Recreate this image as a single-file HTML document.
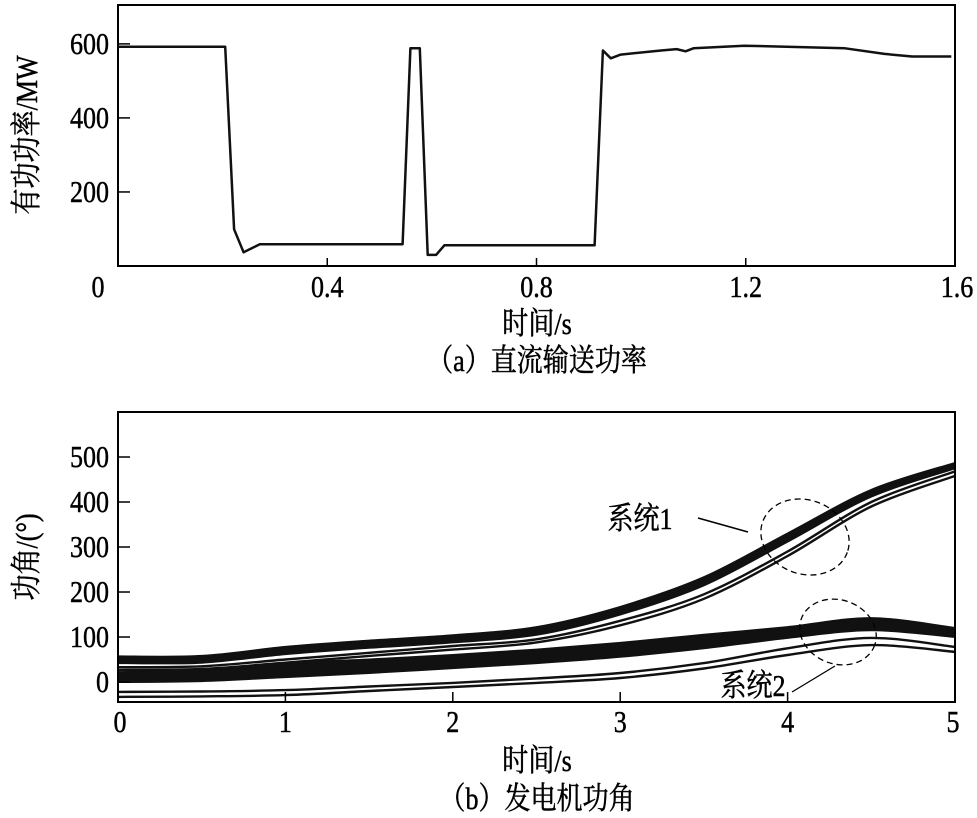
<!DOCTYPE html>
<html><head><meta charset="utf-8"><style>
html,body{margin:0;padding:0;background:#fff;}
svg{display:block;}
text{font-family:"Liberation Serif","Noto Serif CJK SC",serif;fill:#000;stroke:#000;stroke-width:0.5;}
</style></head><body>
<svg id="s" width="977" height="818" viewBox="0 0 977 818" xmlns="http://www.w3.org/2000/svg">
<g id="top"></g>
<g id="bot"></g>
</svg>
<script>
// Chart (a) data
const aTimes = [0,0.205,0.222,0.240,0.271,0.544,0.559,0.577,0.592,0.608,0.624,0.911,0.927,0.942,0.961,1.038,1.068,1.085,1.100,1.197,1.390,1.465,1.518,1.593];
const aPower = [592,592,99,37,59,59,588,588,30,30,56,56,582,561,571,582,586,580,588,595,588,573,566,566];
const aXTicks = [0,0.4,0.8,1.2,1.6];
const aXLabels = ["0","0.4","0.8","1.2","1.6"];
const aYTicks = [200,400,600];
const aYLabels = ["200","400","600"];
// Chart (b) data
const bTimes = [0,0.5,1,1.5,2,2.5,3,3.5,4,4.5,5];
const sys1Top = [57,58,78,92,104,122,167,233,330,427,487];
const sys1Bot = [42,43,62,76,88,105,150,215,312,412,475];
const sys1Thin1 = [33,35,50,65,80,95,136,195,290,400,468];
const sys1Thin2 = [27,29,43,58,72,88,126,185,280,390,458];
const sys2Top = [22,25,42,50,60,72,87,105,122,142,120];
const sys2Bot = [0,2,11,20,31,42,56,75,98,115,100];
const sys2Thin1 = [-22,-21,-18,-10,-2,8,20,42,75,98,78];
const sys2Thin2 = [-33,-32,-29,-20,-11,-2,9,30,60,82,67];
const bXTicks = [0,1,2,3,4,5];
const bXLabels = ["0","1","2","3","4","5"];
const bYTicks = [0,100,200,300,400,500];
const bYLabels = ["0","100","200","300","400","500"];

const NS="http://www.w3.org/2000/svg";
function mk(parent,tag,attrs,txt){const e=document.createElementNS(NS,tag);for(const k in attrs)e.setAttribute(k,attrs[k]);if(txt!==undefined)e.textContent=txt;parent.appendChild(e);return e;}
function label(parent,x,y,str,anchor,size,rot){
  const t=mk(parent,'text',{x:0,y:0,'text-anchor':anchor||'middle','font-size':size||28,transform:`translate(${x},${y})${rot?' rotate(-90)':''} scale(0.84,1)`},str);
  return t;
}

// ---------- chart a ----------
const A={l:118,r:955,t:5,b:266,x0:0,x1:1.6,y0:0,y1:705};
const ax=v=>A.l+(v-A.x0)/(A.x1-A.x0)*(A.r-A.l);
const ay=v=>A.b-(v-A.y0)/(A.y1-A.y0)*(A.b-A.t);
const gA=document.getElementById('top');
let fr=mk(gA,'rect',{x:A.l,y:A.t,width:A.r-A.l,height:A.b-A.t,fill:'none',stroke:'#000','stroke-width':2});


aXTicks.forEach((v,i)=>{
  const l=mk(gA,'line',{x1:ax(v),x2:ax(v),y1:A.b,y2:A.b-8,stroke:'#000','stroke-width':1.5});
  
  
  const t=label(gA,i===0?98:(i===4?957:ax(v)),297,aXLabels[i],'middle',31);
  
  
});
aYTicks.forEach((v,i)=>{
  const l=mk(gA,'line',{x1:A.l,x2:A.l+12,y1:ay(v),y2:ay(v),stroke:'#000','stroke-width':1.5});
  
  
  const t=label(gA,109,ay(v)+10,aYLabels[i],'end',31);
  
  
});
let pa=mk(gA,'path',{d:aTimes.map((t,i)=>(i?'L':'M')+ax(t).toFixed(1)+','+ay(aPower[i]).toFixed(1)).join(''),fill:'none',stroke:'#111','stroke-width':2.5,'stroke-linejoin':'round'});


let t1=label(gA,37,135,'有功功率/MW','middle',31,true);


let t2=label(gA,537,334,'时间/s','middle',31);


let t3=label(gA,537,371,'（a）直流输送功率','middle',31);



// ---------- chart b ----------
const B={l:118,r:955,t:412,b:702,x0:0,x1:5,y0:-44.4,y1:600};
const bx=v=>B.l+(v-B.x0)/(B.x1-B.x0)*(B.r-B.l);
const by=v=>B.b-(v-B.y0)/(B.y1-B.y0)*(B.b-B.t);
const gB=document.getElementById('bot');
function smooth(xs,ys){
  const P=xs.map((x,i)=>[bx(x),by(ys[i])]);
  let d='M'+P[0][0].toFixed(1)+','+P[0][1].toFixed(1);
  for(let i=0;i<P.length-1;i++){
    const p0=P[i-1]||P[i],p1=P[i],p2=P[i+1],p3=P[i+2]||P[i+1];
    const c1=[p1[0]+(p2[0]-p0[0])/6,p1[1]+(p2[1]-p0[1])/6];
    const c2=[p2[0]-(p3[0]-p1[0])/6,p2[1]-(p3[1]-p1[1])/6];
    d+=`C${c1[0].toFixed(1)},${c1[1].toFixed(1)} ${c2[0].toFixed(1)},${c2[1].toFixed(1)} ${p2[0].toFixed(1)},${p2[1].toFixed(1)}`;
  }
  return d;
}
function band(top,bot,name){
  const rev=smooth(bTimes.slice().reverse(),bot.slice().reverse());
  const d=smooth(bTimes,top)+'L'+rev.slice(1)+'Z';
  const p=mk(gB,'path',{d:d,fill:'#111',stroke:'#111','stroke-width':2,'stroke-linejoin':'round'});
  
  
}
function thin(vals,name){
  const p=mk(gB,'path',{d:smooth(bTimes,vals),fill:'none',stroke:'#111','stroke-width':2.4});
  
  
}
band(sys1Top,sys1Bot,'system1-band');
thin(sys1Thin1,'system1-line-3');
thin(sys1Thin2,'system1-line-4');
band(sys2Top,sys2Bot,'system2-band');
thin(sys2Thin1,'system2-line-3');
thin(sys2Thin2,'system2-line-4');
fr=mk(gB,'rect',{x:B.l,y:B.t,width:B.r-B.l,height:B.b-B.t,fill:'none',stroke:'#000','stroke-width':2});


bXTicks.forEach((v,i)=>{
  const l=mk(gB,'line',{x1:bx(v),x2:bx(v),y1:B.b,y2:B.b-10,stroke:'#000','stroke-width':1.5});
  
  
  const t=label(gB,i===0?120:(i===5?953:bx(v)),732,bXLabels[i],'middle',31);
  
  
});
bYTicks.forEach((v,i)=>{
  const l=mk(gB,'line',{x1:B.l,x2:B.l+12,y1:by(v),y2:by(v),stroke:'#000','stroke-width':1.5});
  
  
  const t=label(gB,109,by(v)+10,bYLabels[i],'end',31);
  
  
});
let e1=mk(gB,'ellipse',{cx:805,cy:537,rx:45,ry:37,fill:'none',stroke:'#000','stroke-width':1.3,'stroke-dasharray':'6,4',transform:'rotate(20 805 537)'});


let e2=mk(gB,'ellipse',{cx:838,cy:632,rx:39,ry:32,fill:'none',stroke:'#000','stroke-width':1.3,'stroke-dasharray':'6,4',transform:'rotate(20 838 632)'});


let l1=mk(gB,'line',{x1:698,y1:518,x2:748,y2:532,stroke:'#000','stroke-width':1.5});


let l2=mk(gB,'line',{x1:792,y1:692,x2:835,y2:666,stroke:'#000','stroke-width':1.3});


let s1=label(gB,640,529,'系统1','middle',31);


let s2=label(gB,753,696,'系统2','middle',31);


let t4=label(gB,37,557,'功角/(°)','middle',31,true);


let t5=label(gB,537,771,'时间/s','middle',31);


let t6=label(gB,537,809,'（b）发电机功角','middle',31);


</script>
</body></html>
